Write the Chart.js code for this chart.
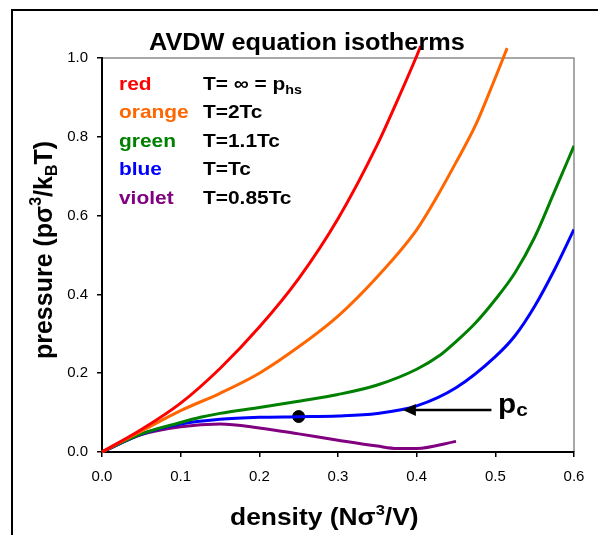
<!DOCTYPE html>
<html>
<head>
<meta charset="utf-8">
<script src="https://cdn.jsdelivr.net/npm/chart.js@4.4.1/dist/chart.umd.min.js"></script>
<style>
  body { margin: 0; background: #fff; }
  canvas { display: block; }
</style>
</head>
<body>
<canvas id="grafico" width="598" height="535"></canvas>
<script>
// tick labels
const xTickLabels = ['0.0', '0.1', '0.2', '0.3', '0.4', '0.5', '0.6'];
const yTickLabels = ['0.0', '0.2', '0.4', '0.6', '0.8', '1.0'];

// isotherms (density, pressure)
const redDensity = [0, 0.05, 0.1, 0.15, 0.2, 0.25, 0.3, 0.35, 0.375, 0.4, 0.405];
const redPressure = [0, 0.057, 0.124, 0.212, 0.317, 0.44, 0.592, 0.78, 0.89, 1.005, 1.03];

const orangeDensity = [0, 0.05, 0.1, 0.15, 0.2, 0.25, 0.3, 0.35, 0.4, 0.425, 0.45, 0.475, 0.5, 0.515];
const orangePressure = [0, 0.053, 0.105, 0.149, 0.2, 0.267, 0.345, 0.445, 0.564, 0.645, 0.735, 0.83, 0.95, 1.025];

const greenDensity = [0, 0.05, 0.1, 0.125, 0.15, 0.2, 0.25, 0.3, 0.35, 0.4, 0.43, 0.45, 0.475, 0.5, 0.525, 0.55, 0.575, 0.6];
const greenPressure = [0, 0.046, 0.075, 0.088, 0.098, 0.113, 0.129, 0.146, 0.17, 0.21, 0.246, 0.28, 0.328, 0.387, 0.455, 0.545, 0.66, 0.777];

const blueDensity = [0, 0.05, 0.1, 0.15, 0.2, 0.25, 0.3, 0.35, 0.4, 0.45, 0.5, 0.525, 0.55, 0.575, 0.6];
const bluePressure = [0, 0.045, 0.071, 0.083, 0.088, 0.0895, 0.0915, 0.098, 0.117, 0.163, 0.242, 0.295, 0.37, 0.462, 0.565];

const violetDensity = [0, 0.05, 0.1, 0.15, 0.2, 0.25, 0.3, 0.35, 0.375, 0.4, 0.45];
const violetPressure = [0, 0.044, 0.064, 0.071, 0.061, 0.046, 0.03, 0.015, 0.009, 0.009, 0.027];

// critical point and the arrow pointing at it
const criticalPoint = { x: 0.25, y: 0.09 };
const arrowTail = { x: 0.495, y: 0.1067 };
const arrowTip = { x: 0.3825, y: 0.1067 };

const fonte = '"Liberation Sans", Arial, sans-serif';
Chart.defaults.font.family = fonte;

function pares(xs, ys) {
  return xs.map((x, i) => ({ x: x, y: ys[i] }));
}

function curva(xs, ys, cor, semCorte) {
  return {
    data: pares(xs, ys),
    borderColor: cor,
    borderWidth: 3,
    pointRadius: 0,
    cubicInterpolationMode: 'monotone',
    fill: false,
    clip: semCorte ? false : undefined,
  };
}

// texto com sub/sobrescritos, esticado na horizontal como no original
function larguraRica(ctx, partes) {
  let w = 0;
  partes.forEach(p => {
    ctx.font = 'bold ' + p.size + 'px ' + fonte;
    w += ctx.measureText(p.text).width;
  });
  return w;
}

function textoRico(ctx, partes, x, y, esticar) {
  ctx.save();
  ctx.translate(x, y);
  ctx.scale(esticar, 1);
  ctx.textBaseline = 'alphabetic';
  ctx.textAlign = 'left';
  let cx = 0;
  partes.forEach(p => {
    ctx.font = 'bold ' + p.size + 'px ' + fonte;
    ctx.fillStyle = p.color || '#000';
    ctx.fillText(p.text, cx, p.dy || 0);
    cx += ctx.measureText(p.text).width;
  });
  ctx.restore();
}

const legenda = [
  { nome: 'red', cor: '#FF0000', texto: [{ text: 'T= \u221E = p', size: 19 }, { text: 'hs', size: 13, dy: 4 }] },
  { nome: 'orange', cor: '#FF6600', texto: [{ text: 'T=2Tc', size: 19 }] },
  { nome: 'green', cor: '#008000', texto: [{ text: 'T=1.1Tc', size: 19 }] },
  { nome: 'blue', cor: '#0000FF', texto: [{ text: 'T=Tc', size: 19 }] },
  { nome: 'violet', cor: '#800080', texto: [{ text: 'T=0.85Tc', size: 19 }] },
];

const desenhos = {
  id: 'desenhos',
  beforeDraw(chart) {
    const ctx = chart.ctx;
    const a = chart.chartArea;
    ctx.save();
    // moldura externa
    ctx.strokeStyle = '#000';
    ctx.lineWidth = 2;
    ctx.beginPath();
    ctx.moveTo(12, 535);
    ctx.lineTo(12, 10);
    ctx.lineTo(598, 10);
    ctx.stroke();
    // bordas cinzas do gráfico
    ctx.strokeStyle = '#8c8c8c';
    ctx.lineWidth = 1.5;
    ctx.beginPath();
    ctx.moveTo(a.left, a.top);
    ctx.lineTo(a.right, a.top);
    ctx.lineTo(a.right, a.bottom);
    ctx.stroke();
    ctx.restore();
  },
  afterDraw(chart) {
    const ctx = chart.ctx;
    const sx = chart.scales.x;
    const sy = chart.scales.y;

    // título
    textoRico(ctx, [{ text: 'AVDW equation isotherms', size: 23 }], 149, 50, 1.1);

    // legenda
    legenda.forEach((l, i) => {
      const y = 90 + i * 28.4;
      textoRico(ctx, [{ text: l.nome, size: 19, color: l.cor }], 119, y, 1.1);
      textoRico(ctx, l.texto, 203, y, 1.1);
    });

    // seta
    const x0 = sx.getPixelForValue(arrowTail.x);
    const x1 = sx.getPixelForValue(arrowTip.x);
    const y0 = sy.getPixelForValue(arrowTail.y);
    ctx.save();
    ctx.strokeStyle = '#000';
    ctx.fillStyle = '#000';
    ctx.lineWidth = 2.5;
    ctx.beginPath();
    ctx.moveTo(x0, y0);
    ctx.lineTo(x1 + 10, y0);
    ctx.stroke();
    ctx.beginPath();
    ctx.moveTo(x1, y0);
    ctx.lineTo(x1 + 13, y0 - 6);
    ctx.lineTo(x1 + 13, y0 + 6);
    ctx.closePath();
    ctx.fill();
    ctx.restore();

    // p_c
    textoRico(ctx, [{ text: 'p', size: 27 }, { text: 'c', size: 19, dy: 3 }], 498, 413, 1.1);

    // título do eixo x
    textoRico(ctx, [
      { text: 'density (N\u03C3', size: 24 },
      { text: '3', size: 15, dy: -10 },
      { text: '/V)', size: 24 },
    ], 230, 525, 1.1);

    // título do eixo y
    const partesY = [
      { text: 'pressure (p\u03C3', size: 25 },
      { text: '3', size: 16, dy: -11 },
      { text: '/k', size: 25 },
      { text: 'B', size: 16, dy: 5 },
      { text: 'T)', size: 25 },
    ];
    const w = larguraRica(ctx, partesY);
    ctx.save();
    ctx.translate(52, 250);
    ctx.rotate(-Math.PI / 2);
    textoRico(ctx, partesY, -w / 2, 0, 1);
    ctx.restore();
  },
};

const grafico = new Chart(document.getElementById('grafico').getContext('2d'), {
  type: 'line',
  data: {
    datasets: [
      curva(redDensity, redPressure, '#FF0000', true),
      curva(orangeDensity, orangePressure, '#FF6600', true),
      curva(greenDensity, greenPressure, '#008000'),
      curva(blueDensity, bluePressure, '#0000FF'),
      curva(violetDensity, violetPressure, '#800080'),
      {
        data: [criticalPoint],
        showLine: false,
        pointRadius: 6,
        pointBackgroundColor: '#000',
        pointBorderColor: '#000',
        borderColor: '#000',
      },
    ],
  },
  options: {
    responsive: false,
    animation: false,
    events: [],
    layout: { padding: { left: 0, right: 24, top: 58, bottom: 0 } },
    plugins: { legend: { display: false }, tooltip: { enabled: false } },
    scales: {
      x: {
        type: 'linear',
        min: 0,
        max: 0.6,
        afterFit: s => { s.height = 83; },
        ticks: {
          stepSize: 0.1,
          padding: 11,
          color: '#000',
          font: { size: 15 },
          callback: v => xTickLabels[Math.round(v * 10)],
        },
        grid: { drawOnChartArea: false, drawTicks: true, tickLength: 5, color: '#000', lineWidth: 1.5 },
        border: { color: '#000', width: 2 },
      },
      y: {
        min: 0,
        max: 1,
        afterFit: s => { s.width = 102; },
        ticks: {
          stepSize: 0.2,
          padding: 9,
          color: '#000',
          font: { size: 15 },
          callback: v => yTickLabels[Math.round(v * 5)],
        },
        grid: { drawOnChartArea: false, drawTicks: true, tickLength: 5, color: '#000', lineWidth: 1.5 },
        border: { color: '#000', width: 2 },
      },
    },
  },
  plugins: [desenhos],
});
</script>
</body>
</html>
